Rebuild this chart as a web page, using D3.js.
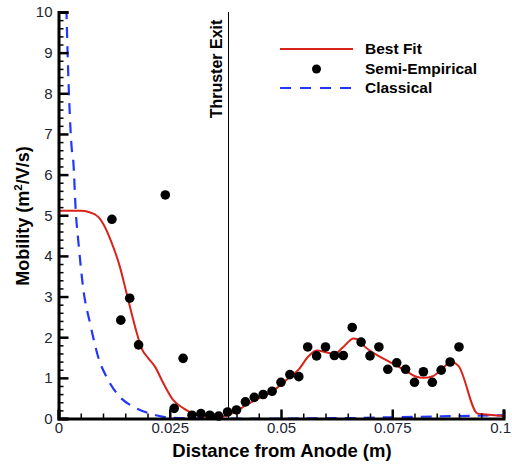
<!DOCTYPE html>
<html>
<head>
<meta charset="utf-8">
<script src="https://cdn.jsdelivr.net/npm/d3@7"></script>
<style>
  html, body { margin: 0; padding: 0; background: #fff; }
  svg { display: block; }
  text { font-family: "Liberation Sans", Arial, Helvetica, sans-serif; }
</style>
</head>
<body>
<svg id="chart" width="512" height="466"></svg>
<script>
// ---- Data ----
const xTicks = [0, 0.025, 0.05, 0.075, 0.1];
const xTickLabels = ["0", "0.025", "0.05", "0.075", "0.1"];
const yTicks = [0, 1, 2, 3, 4, 5, 6, 7, 8, 9, 10];
const thrusterExit = 0.0382;

const semiX = [0.012, 0.014, 0.016, 0.018, 0.024, 0.026, 0.028,
  0.030, 0.032, 0.034, 0.036, 0.038, 0.040, 0.042, 0.044, 0.046, 0.048,
  0.050, 0.052, 0.054, 0.056, 0.058, 0.060, 0.062, 0.064, 0.066, 0.068,
  0.070, 0.072, 0.074, 0.076, 0.078, 0.080, 0.082, 0.084, 0.086, 0.088, 0.090];
const semiY = [4.90, 2.42, 2.96, 1.81, 5.50, 0.25, 1.48,
  0.08, 0.12, 0.08, 0.06, 0.16, 0.21, 0.41, 0.52, 0.59, 0.67,
  0.89, 1.08, 1.03, 1.76, 1.54, 1.76, 1.55, 1.55, 2.24, 1.88,
  1.54, 1.76, 1.21, 1.37, 1.21, 0.89, 1.15, 0.89, 1.19, 1.39, 1.76];

const fitX = [0, 0.0050, 0.0068, 0.0082, 0.0092, 0.0101, 0.0120, 0.0138, 0.0153, 0.0172, 0.0187,
  0.0202, 0.0217, 0.0236, 0.0258, 0.0281, 0.0303, 0.032, 0.034, 0.036, 0.038,
  0.040, 0.042, 0.044, 0.046, 0.048, 0.050, 0.052, 0.054, 0.0562, 0.0581, 0.0601,
  0.062, 0.064, 0.0663, 0.0672, 0.0682, 0.0701, 0.0721, 0.0741, 0.0762, 0.0781,
  0.0801, 0.0821, 0.0841, 0.0861, 0.0882, 0.0899, 0.0942, 0.096, 0.1];
const fitY = [5.11, 5.11, 5.08, 5.02, 4.93, 4.78, 4.31, 3.73, 3.08, 2.26, 1.72,
  1.48, 1.27, 0.86, 0.45, 0.25, 0.12, 0.06, 0.04, 0.04, 0.08,
  0.18, 0.32, 0.44, 0.55, 0.66, 0.84, 1.02, 1.21, 1.53, 1.67, 1.63,
  1.59, 1.76, 1.97, 1.95, 1.83, 1.66, 1.53, 1.41, 1.29, 1.17,
  1.04, 1.00, 1.04, 1.21, 1.39, 1.29, 0.12, 0.10, 0.06];

const classX = [0.0015, 0.0018, 0.0024, 0.0030, 0.0033, 0.0039, 0.0045, 0.0056, 0.0071,
  0.0089, 0.0112, 0.0138, 0.0168, 0.0206, 0.0236, 0.027, 0.035, 0.05, 0.065,
  0.075, 0.085, 0.095, 0.1];
const classY = [11.5, 10.0, 7.84, 6.61, 6.36, 5.06, 4.31, 3.16, 2.34,
  1.52, 0.94, 0.53, 0.29, 0.12, 0.04, 0.01, 0.0, 0.0, 0.01,
  0.03, 0.05, 0.07, 0.08];

const legendItems = ["Best Fit", "Semi-Empirical", "Classical"];

// ---- Layout ----
const svg = d3.select("#chart");
const x = d3.scaleLinear().domain([0, 0.1]).range([58.5, 503.5]);
const y = d3.scaleLinear().domain([0, 10]).range([418.5, 12]);
const red = "#d8231a", blue = "#2236ff";

svg.append("defs").append("clipPath").attr("id", "clip")
  .append("rect").attr("x", x(0)).attr("y", y(10))
  .attr("width", x(0.1) - x(0) + 2).attr("height", y(0) - y(10));

// Thruster exit line
svg.append("line")
  .attr("x1", x(thrusterExit)).attr("x2", x(thrusterExit))
  .attr("y1", y(10)).attr("y2", y(0))
  .attr("stroke", "#000").attr("stroke-width", 1);
svg.append("text")
  .attr("transform", `translate(${x(thrusterExit) - 6},69) rotate(-90)`)
  .attr("text-anchor", "middle")
  .attr("font-size", 16).attr("font-weight", "bold")
  .text("Thruster Exit");

// Lines
const g = svg.append("g").attr("clip-path", "url(#clip)");
const line = d3.line().x(d => x(d[0])).y(d => y(d[1])).curve(d3.curveMonotoneX);
g.append("path")
  .datum(classX.map((v, i) => [v, classY[i]]))
  .attr("d", line)
  .attr("fill", "none").attr("stroke", blue).attr("stroke-width", 2.2)
  .attr("stroke-dasharray", "11,8");
g.append("path")
  .datum(fitX.map((v, i) => [v, fitY[i]]))
  .attr("d", line)
  .attr("fill", "none").attr("stroke", red).attr("stroke-width", 2);

// Points
svg.append("g").selectAll("circle")
  .data(semiX.map((v, i) => [v, semiY[i]]))
  .join("circle")
  .attr("cx", d => x(d[0])).attr("cy", d => y(d[1]))
  .attr("r", 4.8).attr("fill", "#000");

// Axes
const yMinor = d3.range(0, 10.001, 0.2).filter(v => Math.abs(v - Math.round(v)) > 1e-6);
const xMinor = d3.range(0, 0.1001, 0.005).filter(v => Math.abs(v / 0.025 - Math.round(v / 0.025)) > 1e-6);

const gy = svg.append("g").attr("transform", `translate(${x(0)},0)`);
gy.call(d3.axisLeft(y).tickValues(yMinor).tickSize(-5).tickFormat(""))
  .call(a => a.select(".domain").remove())
  .call(a => a.selectAll("line").attr("stroke-width", 1.5));
const gy2 = svg.append("g").attr("transform", `translate(${x(0)},0)`);
gy2.call(d3.axisLeft(y).tickValues(yTicks).tickSize(-10).tickPadding(6).tickFormat(d3.format("d")))
  .call(a => a.select(".domain").attr("stroke-width", 3))
  .call(a => a.selectAll("line").attr("stroke-width", 2.5))
  .call(a => a.selectAll("text").attr("font-size", 15).attr("fill", "#1d2433")
    .attr("font-family", "Liberation Sans, Arial, sans-serif"));

const gx = svg.append("g").attr("transform", `translate(0,${y(0)})`);
gx.call(d3.axisBottom(x).tickValues(xMinor).tickSize(-5).tickFormat(""))
  .call(a => a.select(".domain").remove())
  .call(a => a.selectAll("line").attr("stroke-width", 1.5));
const gx2 = svg.append("g").attr("transform", `translate(0,${y(0)})`);
gx2.call(d3.axisBottom(x).tickValues(xTicks).tickSize(-9).tickPadding(4)
    .tickFormat((d, i) => xTickLabels[i]))
  .call(a => a.select(".domain").attr("stroke-width", 3))
  .call(a => a.selectAll("line").attr("stroke-width", 2.5))
  .call(a => a.selectAll("text").attr("font-size", 15).attr("fill", "#1d2433")
    .attr("font-family", "Liberation Sans, Arial, sans-serif"));
// keep the last label inside the picture
gx2.selectAll(".tick").filter(d => d === 0.1).select("text")
  .attr("text-anchor", "end").attr("x", 7);

// Axis titles
svg.append("text")
  .attr("x", 282).attr("y", 457)
  .attr("text-anchor", "middle").attr("font-size", 18.5).attr("font-weight", "bold")
  .text("Distance from Anode (m)");
const yt = svg.append("text")
  .attr("transform", `translate(29,216) rotate(-90)`)
  .attr("text-anchor", "middle").attr("font-size", 18).attr("font-weight", "bold");
yt.append("tspan").text("Mobility (m");
yt.append("tspan").attr("font-size", 11.5).attr("dy", -7).text("2");
yt.append("tspan").attr("dy", 7).text("/V/s)");

// Legend
const lg = svg.append("g");
const lx0 = 280, lx1 = 353, ly = [49, 69, 88];
lg.append("line").attr("x1", lx0).attr("x2", lx1).attr("y1", ly[0]).attr("y2", ly[0])
  .attr("stroke", red).attr("stroke-width", 2.2);
lg.append("circle").attr("cx", (lx0 + lx1) / 2).attr("cy", ly[1]).attr("r", 4.5).attr("fill", "#000");
lg.append("line").attr("x1", lx0).attr("x2", lx1).attr("y1", ly[2]).attr("y2", ly[2])
  .attr("stroke", blue).attr("stroke-width", 2.2).attr("stroke-dasharray", "11,9");
lg.selectAll("text.leg").data(legendItems).join("text")
  .attr("class", "leg")
  .attr("x", 365).attr("y", (d, i) => ly[i]).attr("dy", "0.35em")
  .attr("font-size", 15.5).attr("font-weight", "bold")
  .text(d => d);
</script>
</body>
</html>
